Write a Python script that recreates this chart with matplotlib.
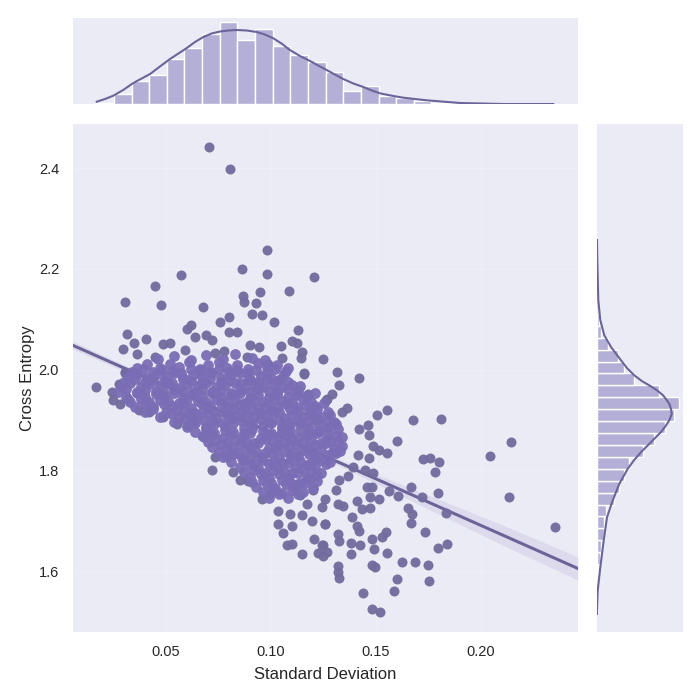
import numpy as np
import matplotlib
matplotlib.use('Agg')
import matplotlib.pyplot as plt

plt.rcParams['font.family'] = ['Liberation Sans', 'DejaVu Sans']

# scatter: outliers and edge points first
outer_x = [0.0706, 0.0806, 0.0981, 0.0863, 0.0981, 0.1203, 0.057, 0.0448, 0.0306, 0.0476, 0.0678, 0.0949, 0.1087, 0.0867,
           0.0871, 0.093, 0.091, 0.0957, 0.1016, 0.0801, 0.0759, 0.062, 0.0599, 0.0316, 0.0403, 0.0349, 0.0297, 0.064,
           0.0692, 0.0718, 0.0801, 0.084, 0.1129, 0.1048, 0.1099, 0.1122, 0.09, 0.0944, 0.1146, 0.1141, 0.1248, 0.1159,
           0.0487, 0.0519, 0.059, 0.036, 0.0448, 0.0305, 0.0733, 0.0778, 0.0884, 0.1051, 0.0987,
           0.142, 0.1316, 0.1325, 0.1289, 0.126, 0.136, 0.1337, 0.1552, 0.1503, 0.1678, 0.1808, 0.142, 0.146, 0.1465,
           0.1598, 0.2144, 0.2044, 0.1487, 0.1516, 0.1554, 0.1416, 0.1468, 0.1725, 0.1757, 0.1799, 0.1781, 0.1392,
           0.1448, 0.1487, 0.1368, 0.1325, 0.1665, 0.1562, 0.1606, 0.1721, 0.1795, 0.2135, 0.1456, 0.148, 0.1471,
           0.1516, 0.1408, 0.131, 0.1321, 0.1344, 0.1432, 0.1471, 0.1654, 0.1673, 0.1833, 0.1668, 0.2352, 0.1387,
           0.1408, 0.142, 0.1257, 0.1321, 0.1325, 0.1731, 0.1548, 0.1527, 0.1482, 0.1492, 0.1379, 0.1424, 0.184,
           0.1794, 0.1246, 0.1268, 0.1246, 0.1382, 0.1551, 0.1625, 0.1687, 0.1749, 0.148, 0.1495, 0.1321, 0.1321,
           0.1325, 0.1601, 0.1754, 0.1587, 0.1439, 0.1482, 0.1521,
           0.0168, 0.0275, 0.0241, 0.0249, 0.0281, 0.032, 0.0373, 0.042, 0.0487, 0.0551, 0.0599, 0.067, 0.0733, 0.0789,
           0.0721, 0.0818, 0.0852, 0.0892, 0.0956, 0.0995, 0.1035, 0.1035, 0.1059, 0.1075, 0.1099, 0.1149, 0.1206,
           0.1241, 0.1225, 0.1099, 0.1091, 0.1146, 0.1194, 0.1257, 0.1138, 0.1173, 0.1241, 0.1202, 0.1257, 0.1122,
           0.1209, 0.1209, 0.1265, 0.1178, 0.113, 0.1159, 0.1043, 0.0305]
outer_y = [2.442, 2.399, 2.237, 2.2, 2.19, 2.183, 2.187, 2.165, 2.134, 2.129, 2.124, 2.153, 2.155, 2.146,
           2.134, 2.132, 2.111, 2.109, 2.095, 2.105, 2.094, 2.089, 2.08, 2.071, 2.061, 2.052, 2.041, 2.064,
           2.069, 2.058, 2.074, 2.074, 2.078, 2.047, 2.056, 2.053, 2.049, 2.045, 2.035, 2.022, 2.021, 1.994,
           2.051, 2.053, 2.038, 2.03, 2.024, 1.996, 2.032, 2.037, 2.025, 2.022, 2.012,
           1.984, 1.996, 1.969, 1.952, 1.94, 1.924, 1.916, 1.919, 1.909, 1.899, 1.902, 1.882, 1.889, 1.871,
           1.859, 1.857, 1.829, 1.849, 1.84, 1.835, 1.831, 1.824, 1.822, 1.824, 1.816, 1.797, 1.806,
           1.8, 1.794, 1.788, 1.781, 1.767, 1.758, 1.749, 1.747, 1.755, 1.747, 1.767, 1.767, 1.747,
           1.744, 1.74, 1.76, 1.733, 1.73, 1.723, 1.725, 1.725, 1.714, 1.715, 1.696, 1.688, 1.707,
           1.69, 1.679, 1.694, 1.674, 1.66, 1.678, 1.677, 1.667, 1.664, 1.644, 1.656, 1.652, 1.654,
           1.646, 1.652, 1.637, 1.629, 1.634, 1.635, 1.617, 1.617, 1.612, 1.612, 1.608, 1.61, 1.598,
           1.587, 1.584, 1.581, 1.561, 1.556, 1.525, 1.519,
           1.966, 1.972, 1.955, 1.939, 1.932, 1.942, 1.92, 1.916, 1.906, 1.892, 1.889, 1.869, 1.826, 1.826,
           1.801, 1.797, 1.781, 1.778, 1.744, 1.753, 1.72, 1.694, 1.676, 1.651, 1.654, 1.634, 1.664,
           1.651, 1.635, 1.69, 1.714, 1.711, 1.7, 1.694, 1.75, 1.733, 1.727, 1.76, 1.744, 1.773,
           1.826, 1.899, 1.942, 1.951, 1.959, 1.992, 1.982, 1.993]

# dense middle of the cloud, estimated strip by strip
core_x = [0.036, 0.041, 0.047, 0.052, 0.056, 0.061, 0.066, 0.07, 0.075, 0.079, 0.084, 0.089, 0.094, 0.098, 0.103, 0.108,
          0.032, 0.036, 0.041, 0.045, 0.05, 0.054, 0.058, 0.063, 0.067, 0.072, 0.076, 0.081, 0.085, 0.09, 0.095, 0.1, 0.106,
          0.029, 0.033, 0.038, 0.042, 0.047, 0.051, 0.056, 0.06, 0.065, 0.069, 0.074, 0.078, 0.083, 0.087, 0.092, 0.096, 0.101, 0.105, 0.11, 0.114,
          0.031, 0.036, 0.04, 0.045, 0.049, 0.054, 0.058, 0.063, 0.067, 0.072, 0.076, 0.081, 0.085, 0.09, 0.094, 0.099, 0.103, 0.108, 0.112, 0.117, 0.121,
          0.035, 0.04, 0.044, 0.049, 0.053, 0.058, 0.062, 0.067, 0.071, 0.076, 0.08, 0.085, 0.089, 0.094, 0.098, 0.103, 0.107, 0.112, 0.116, 0.121, 0.125,
          0.047, 0.052, 0.056, 0.061, 0.065, 0.07, 0.074, 0.079, 0.083, 0.088, 0.092, 0.097, 0.101, 0.106, 0.11, 0.115, 0.119, 0.124, 0.128,
          0.06, 0.064, 0.069, 0.073, 0.078, 0.082, 0.087, 0.091, 0.096, 0.1, 0.105, 0.109, 0.114, 0.118, 0.123, 0.127, 0.131,
          0.068, 0.072, 0.077, 0.081, 0.086, 0.09, 0.095, 0.099, 0.104, 0.108, 0.113, 0.117, 0.122, 0.126, 0.131, 0.134,
          0.072, 0.076, 0.081, 0.085, 0.09, 0.094, 0.099, 0.103, 0.108, 0.112, 0.117, 0.121, 0.126, 0.13, 0.134,
          0.077, 0.082, 0.086, 0.091, 0.095, 0.1, 0.104, 0.109, 0.113, 0.118, 0.122, 0.127, 0.131,
          0.085, 0.09, 0.094, 0.099, 0.103, 0.108, 0.112, 0.117, 0.121, 0.126,
          0.09, 0.095, 0.099, 0.104, 0.108, 0.113, 0.117, 0.122,
          0.093, 0.098, 0.102, 0.107, 0.111, 0.116, 0.12,
          0.099, 0.104, 0.108, 0.113]
core_y = [2.004, 2.011, 2.003, 2.012, 2.006, 2.015, 2.002, 2.01, 2.016, 2.004, 2.009, 2.001, 2.013, 2.005, 2.01, 2.003,
          1.985, 1.992, 1.984, 1.991, 1.986, 1.993, 1.983, 1.99, 1.987, 1.994, 1.984, 1.989, 1.993, 1.982, 1.988, 1.984, 1.991,
          1.966, 1.973, 1.965, 1.972, 1.967, 1.974, 1.964, 1.971, 1.968, 1.973, 1.965, 1.97, 1.974, 1.963, 1.969, 1.966, 1.972, 1.965, 1.97, 1.967,
          1.946, 1.953, 1.945, 1.952, 1.947, 1.954, 1.944, 1.951, 1.948, 1.953, 1.945, 1.95, 1.954, 1.943, 1.949, 1.946, 1.952, 1.945, 1.95, 1.947, 1.953,
          1.926, 1.933, 1.925, 1.932, 1.927, 1.934, 1.924, 1.931, 1.928, 1.933, 1.925, 1.93, 1.934, 1.923, 1.929, 1.926, 1.932, 1.925, 1.93, 1.927, 1.933,
          1.906, 1.913, 1.905, 1.912, 1.907, 1.914, 1.904, 1.911, 1.908, 1.913, 1.905, 1.91, 1.914, 1.903, 1.909, 1.906, 1.912, 1.905, 1.91,
          1.886, 1.893, 1.885, 1.892, 1.887, 1.894, 1.884, 1.891, 1.888, 1.893, 1.885, 1.89, 1.894, 1.883, 1.889, 1.886, 1.892,
          1.866, 1.873, 1.865, 1.872, 1.867, 1.874, 1.864, 1.871, 1.868, 1.873, 1.865, 1.87, 1.874, 1.863, 1.869, 1.866,
          1.846, 1.853, 1.845, 1.852, 1.847, 1.854, 1.844, 1.851, 1.848, 1.853, 1.845, 1.85, 1.854, 1.843, 1.849,
          1.826, 1.833, 1.825, 1.832, 1.827, 1.834, 1.824, 1.831, 1.828, 1.833, 1.825, 1.83, 1.834,
          1.806, 1.813, 1.805, 1.812, 1.807, 1.814, 1.804, 1.811, 1.808, 1.813,
          1.786, 1.793, 1.785, 1.792, 1.787, 1.794, 1.784, 1.791,
          1.766, 1.773, 1.765, 1.772, 1.767, 1.774, 1.764,
          1.746, 1.753, 1.745, 1.752]

# in-between strips of the same cloud
fill_x = [0.046, 0.054, 0.062, 0.069, 0.077, 0.083, 0.091, 0.097,
          0.034, 0.039, 0.044, 0.048, 0.053, 0.057, 0.062, 0.066, 0.071, 0.075, 0.08, 0.084, 0.089, 0.093, 0.098, 0.102, 0.107,
          0.03, 0.035, 0.04, 0.044, 0.049, 0.053, 0.058, 0.062, 0.067, 0.071, 0.076, 0.08, 0.085, 0.089, 0.094, 0.098, 0.103, 0.108,
          0.027, 0.031, 0.036, 0.04, 0.045, 0.049, 0.054, 0.058, 0.063, 0.067, 0.072, 0.076, 0.081, 0.085, 0.09, 0.094, 0.099, 0.103, 0.108, 0.113,
          0.033, 0.038, 0.042, 0.047, 0.051, 0.056, 0.06, 0.065, 0.069, 0.074, 0.078, 0.083, 0.087, 0.092, 0.096, 0.101, 0.105, 0.11, 0.115, 0.119,
          0.04, 0.044, 0.05, 0.055, 0.059, 0.064, 0.068, 0.073, 0.077, 0.082, 0.086, 0.091, 0.095, 0.1, 0.104, 0.109, 0.113, 0.118, 0.122, 0.127,
          0.054, 0.059, 0.063, 0.068, 0.072, 0.077, 0.081, 0.086, 0.09, 0.095, 0.099, 0.104, 0.108, 0.113, 0.117, 0.122, 0.127, 0.13,
          0.064, 0.069, 0.073, 0.078, 0.082, 0.087, 0.091, 0.096, 0.1, 0.105, 0.109, 0.114, 0.118, 0.123, 0.127, 0.132,
          0.07, 0.074, 0.079, 0.083, 0.088, 0.092, 0.097, 0.101, 0.106, 0.11, 0.115, 0.119, 0.124, 0.128, 0.132,
          0.075, 0.079, 0.084, 0.088, 0.093, 0.097, 0.102, 0.106, 0.111, 0.115, 0.12, 0.124, 0.129, 0.133,
          0.081, 0.087, 0.092, 0.096, 0.101, 0.105, 0.11, 0.114, 0.119, 0.124, 0.128,
          0.087, 0.092, 0.097, 0.101, 0.106, 0.11, 0.115, 0.119, 0.124,
          0.091, 0.096, 0.1, 0.105, 0.109, 0.114, 0.118, 0.122,
          0.096, 0.101, 0.105, 0.11, 0.115]
fill_y = [2.021, 2.026, 2.018, 2.028, 2.02, 2.03, 2.023, 2.019,
          1.996, 2.001, 1.995, 2.0, 1.997, 1.994, 2.002, 1.998, 1.995, 2.001, 1.996, 2.0, 1.994, 1.999, 1.996, 2.002, 1.998,
          1.976, 1.981, 1.975, 1.98, 1.977, 1.974, 1.982, 1.978, 1.975, 1.981, 1.976, 1.98, 1.974, 1.979, 1.976, 1.982, 1.978, 1.975,
          1.956, 1.961, 1.955, 1.96, 1.957, 1.954, 1.962, 1.958, 1.955, 1.961, 1.956, 1.96, 1.954, 1.959, 1.956, 1.962, 1.958, 1.955, 1.961, 1.956,
          1.936, 1.941, 1.935, 1.94, 1.937, 1.934, 1.942, 1.938, 1.935, 1.941, 1.936, 1.94, 1.934, 1.939, 1.936, 1.942, 1.938, 1.935, 1.941, 1.936,
          1.916, 1.921, 1.915, 1.92, 1.917, 1.914, 1.922, 1.918, 1.915, 1.921, 1.916, 1.92, 1.914, 1.919, 1.916, 1.922, 1.918, 1.915, 1.921, 1.916,
          1.896, 1.901, 1.895, 1.9, 1.897, 1.894, 1.902, 1.898, 1.895, 1.901, 1.896, 1.9, 1.894, 1.899, 1.896, 1.902, 1.898, 1.895,
          1.876, 1.881, 1.875, 1.88, 1.877, 1.874, 1.882, 1.878, 1.875, 1.881, 1.876, 1.88, 1.874, 1.879, 1.876, 1.882,
          1.856, 1.861, 1.855, 1.86, 1.857, 1.854, 1.862, 1.858, 1.855, 1.861, 1.856, 1.86, 1.854, 1.859, 1.856,
          1.836, 1.841, 1.835, 1.84, 1.837, 1.834, 1.842, 1.838, 1.835, 1.841, 1.836, 1.84, 1.834, 1.839,
          1.816, 1.821, 1.815, 1.82, 1.817, 1.814, 1.822, 1.818, 1.815, 1.821, 1.816,
          1.796, 1.801, 1.795, 1.8, 1.797, 1.794, 1.802, 1.798, 1.795,
          1.776, 1.781, 1.775, 1.78, 1.777, 1.774, 1.782, 1.778,
          1.756, 1.761, 1.755, 1.76, 1.757]

# fit line and its band
fit_x = [0.0057, 0.05, 0.09, 0.13, 0.17, 0.21, 0.2462]
fit_y = [2.048, 1.966, 1.893, 1.82, 1.746, 1.672, 1.605]
band_lo = [2.04, 1.961, 1.889, 1.814, 1.733, 1.652, 1.582]
band_hi = [2.056, 1.971, 1.897, 1.826, 1.759, 1.692, 1.628]

# top marginal
top_bins = [1, 10, 23, 29, 45, 56, 70, 82, 64, 75, 58, 49, 42, 32, 13, 18, 8, 6, 3, 1.5, 1, 0, 0, 0, 0, 0]
top_kde_x = [0.017, 0.0209, 0.0249, 0.0296, 0.0344, 0.0384, 0.0424, 0.0471, 0.0519, 0.0559, 0.0599, 0.0638, 0.0678,
             0.0717, 0.0757, 0.0797, 0.0837, 0.0884, 0.0932, 0.0971, 0.1011, 0.105, 0.109, 0.1138, 0.1186, 0.1225,
             0.1265, 0.1304, 0.1344, 0.1392, 0.144, 0.148, 0.1519, 0.1575, 0.163, 0.1741, 0.19, 0.2106, 0.2344]
top_kde_y = [2.3, 5, 8.3, 14, 21, 25.5, 30, 37.5, 45, 50.5, 56, 62, 67, 70.5, 72.5, 73.5, 74, 73.5, 72, 69.5, 65.7, 60.5,
             54, 48, 43, 38.5, 34, 29.5, 25, 20.5, 17, 13.5, 10.7, 8.3, 6.3, 3.7, 1, 0, 0]

# right marginal, bottom bin first
right_bins = [1, 0.7, 1, 1, 3, 4, 7, 7, 9, 17, 22, 27, 32, 46, 57, 68, 77, 82, 62, 37.3, 27.3, 20.7, 10.7, 4, 2,
              0, 0, 0, 0, 0, 0, 0, 0, 0, 0, 0, 0, 0, 0]
right_kde_y = [1.5147, 1.561, 1.6075, 1.6605, 1.7068, 1.74, 1.773, 1.803, 1.82, 1.836, 1.85, 1.8626, 1.876, 1.889, 1.9,
               1.912, 1.922, 1.932, 1.94, 1.949, 1.958, 1.9666, 1.977, 1.9885, 2.003, 2.0183, 2.0448, 2.068, 2.098,
               2.1376, 2.217, 2.257]
right_kde_x = [0, 0.7, 3.3, 6.7, 10, 15.7, 22.3, 30.7, 37, 44, 51, 57.3, 64, 69, 72.5, 74.7, 74, 72.3, 69.5, 66, 60.5,
               54, 45, 37.3, 30, 24, 14, 7.3, 3.3, 1.3, 0.3, 0]

outer_color = '#716b9e'
core_color = '#7a6db5'
line_color = '#6c6498'
bar_color = '#b3afd6'
bg_color = '#ebebf5'

fig = plt.figure(figsize=(7, 7), dpi=100)
ax = fig.add_axes([73 / 700, 1 - 632 / 700, 505 / 700, 508 / 700])
ax_top = fig.add_axes([73 / 700, 1 - 104 / 700, 505 / 700, 86 / 700])
ax_right = fig.add_axes([597 / 700, 1 - 632 / 700, 86 / 700, 508 / 700])

for a in [ax, ax_top, ax_right]:
    a.set_facecolor(bg_color)
    for s in a.spines.values():
        s.set_visible(False)

ax.grid(True, color='white', linewidth=1, alpha=0.2)
ax.set_axisbelow(True)
ax.fill_between(fit_x, band_lo, band_hi, color=core_color, alpha=0.13, linewidth=0, zorder=1)
ax.plot(fit_x, fit_y, color=line_color, linewidth=2.2, zorder=1.5)
ax.scatter(outer_x, outer_y, s=52, color=outer_color, alpha=0.95, linewidths=0, zorder=2)
ax.scatter(core_x + fill_x, core_y + fill_y, s=60, color=core_color, alpha=0.95, linewidths=0, zorder=2)
ax.set_xlim(0.0057, 0.2462)
ax.set_ylim(1.479, 2.4875)
ax.set_xticks([0.05, 0.10, 0.15, 0.20])
ax.set_xticklabels(['0.05', '0.10', '0.15', '0.20'])
ax.set_yticks([1.6, 1.8, 2.0, 2.2, 2.4])
ax.tick_params(axis='x', length=0, labelsize=10.5, colors='#262626', pad=9)
ax.tick_params(axis='y', length=0, labelsize=10.5, colors='#262626', pad=10)
ax.set_xlabel('Standard Deviation', fontsize=12, color='#262626', labelpad=6)
ax.set_ylabel('Cross Entropy', fontsize=12, color='#262626', labelpad=3)

top_edges = np.linspace(0.0168, 0.2352, len(top_bins) + 1)
ax_top.bar(top_edges[:-1], top_bins, width=np.diff(top_edges), align='edge', color=bar_color, edgecolor='white', linewidth=1)
ax_top.plot(top_kde_x, top_kde_y, color=line_color, linewidth=1.5)
ax_top.set_xlim(ax.get_xlim())
ax_top.set_ylim(0, 86)
ax_top.set_xticks([])
ax_top.set_yticks([])

right_edges = np.linspace(1.519, 2.442, len(right_bins) + 1)
right_counts = np.array(right_bins)
keep = right_counts > 0
ax_right.barh(right_edges[:-1][keep], right_counts[keep], height=np.diff(right_edges)[keep], align='edge',
              color=bar_color, edgecolor='white', linewidth=1)
ax_right.plot(right_kde_x, right_kde_y, color=line_color, linewidth=1.5)
ax_right.set_ylim(ax.get_ylim())
ax_right.set_xlim(0, 86)
ax_right.set_xticks([])
ax_right.set_yticks([])

fig.savefig('out.png', dpi=100)
